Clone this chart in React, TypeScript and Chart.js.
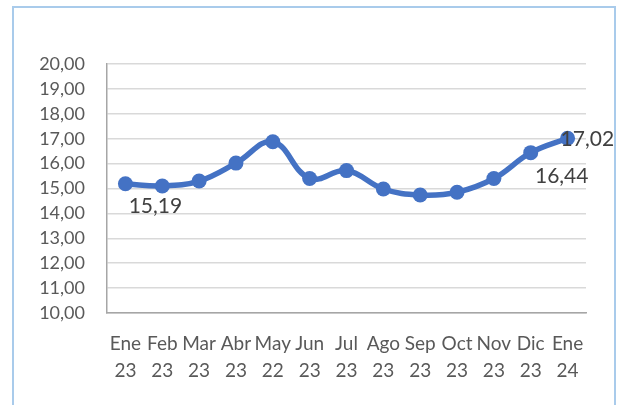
import React, { useEffect, useRef } from "react";
import { Chart, registerables } from "chart.js";

Chart.register(...registerables);

const months = ["Ene", "Feb", "Mar", "Abr", "May", "Jun", "Jul", "Ago", "Sep", "Oct", "Nov", "Dic", "Ene"];
const years = ["23", "23", "23", "23", "22", "23", "23", "23", "23", "23", "23", "23", "24"];
const values = [15.19, 15.1, 15.3, 16.02, 16.88, 15.4, 15.72, 14.98, 14.74, 14.85, 15.4, 16.44, 17.02];
const labeledIndices = [0, 11, 12];

const fmt = (v: number) => v.toFixed(2).replace(".", ",");

const FONT = "Lato, 'Open Sans', sans-serif";

const labelPlugin = {
  id: "valueLabels",
  afterDatasetsDraw(chart: any) {
    const ctx = chart.ctx;
    const meta = chart.getDatasetMeta(0);
    const offsets: Record<number, [number, number, string]> = {
      0: [30, 22, "center"],
      11: [31, 24, "center"],
      12: [-7, 1, "left"],
    };
    ctx.save();
    ctx.font = `21px ${FONT}`;
    ctx.fillStyle = "#404040";
    ctx.textBaseline = "middle";
    labeledIndices.forEach((i) => {
      const el = meta.data[i];
      const [dx, dy, align] = offsets[i];
      ctx.textAlign = align as CanvasTextAlign;
      ctx.fillText(fmt(values[i]), el.x + dx, el.y + dy);
    });
    ctx.restore();
  },
};

export default function App() {
  const ref = useRef<HTMLCanvasElement>(null);
  useEffect(() => {
    if (!ref.current) return;
    const chart = new Chart(ref.current, {
      type: "line",
      data: {
        labels: months.map((m, i) => [m, years[i]]),
        datasets: [
          {
            data: values,
            borderColor: "#4472C4",
            backgroundColor: "#4472C4",
            borderWidth: 5.5,
            pointRadius: 7.5,
            pointBorderWidth: 0,
            pointBackgroundColor: "#4472C4",
            tension: 0.4,
          },
        ],
      },
      options: {
        animation: false,
        responsive: false,
        maintainAspectRatio: false,
        layout: { padding: { left: 0, right: 36, top: 64, bottom: 0 } },
        plugins: { legend: { display: false }, tooltip: { enabled: false } },
        scales: {
          x: {
            offset: true,
            grid: { display: false, drawTicks: false },
            border: { display: true, color: "#A6A6A6", width: 1.5 },
            ticks: {
              color: "#595959",
              font: { family: FONT, size: 19, lineHeight: 1.4 },
              padding: 18,
              maxRotation: 0,
              autoSkip: false,
            },
            afterFit: (s: any) => {
              s.height = 92;
            },
          },
          y: {
            min: 10,
            max: 20,
            grid: { color: "#D9D9D9", lineWidth: 1.5, drawTicks: false },
            border: { display: true, color: "#A6A6A6", width: 1.5 },
            ticks: {
              stepSize: 1,
              color: "#595959",
              font: { family: FONT, size: 18 },
              padding: 22,
              callback: (v: any) => fmt(Number(v)),
            },
            afterFit: (s: any) => {
              s.width = 107;
            },
          },
        },
      },
      plugins: [labelPlugin],
    });
    return () => chart.destroy();
  }, []);

  return (
    <div style={{ position: "fixed", left: 0, top: 0, width: 622, height: 405, background: "#fff", overflow: "hidden" }}>
      <div
        style={{
          position: "absolute",
          left: 12,
          top: 6,
          width: 604,
          height: 420,
          border: "2px solid #A9CBEB",
          boxSizing: "border-box",
        }}
      />
      <canvas ref={ref} width={622} height={405} style={{ position: "absolute", left: 0, top: 0 }} />
    </div>
  );
}
